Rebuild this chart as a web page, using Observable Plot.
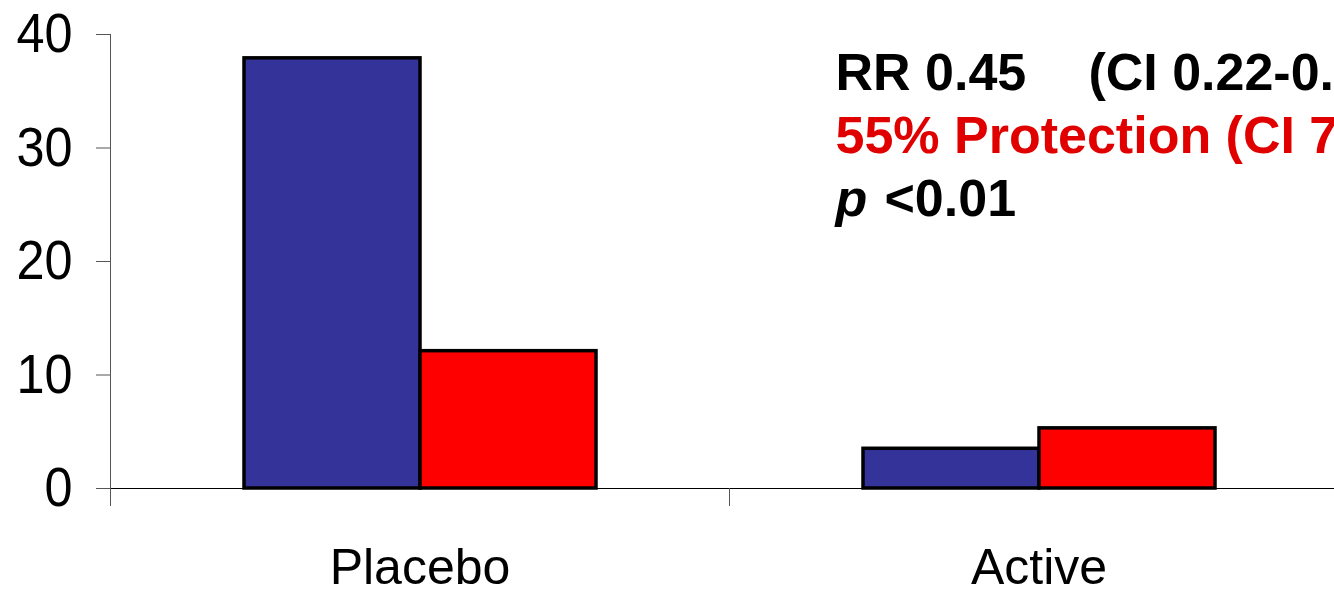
<!DOCTYPE html>
<html>
<head>
<meta charset="utf-8">
<script src="https://cdn.jsdelivr.net/npm/d3@7"></script>
<script src="https://cdn.jsdelivr.net/npm/@observablehq/plot@0.6"></script>
<style>
  html, body { margin: 0; padding: 0; background: #fff; overflow: hidden; }
  #chart svg { display: block; overflow: hidden; }
</style>
</head>
<body>
<div id="chart"></div>
<script>
const categories = ["Placebo", "Active"];
const series = ["Series 1", "Series 2"];
const series1Values = [37.9, 3.5];
const series2Values = [12.1, 5.3];
const yTicks = [0, 10, 20, 30, 40];
const seriesColors = ["#333399", "#ff0000"];
const annotationLine1 = "RR 0.45\u00a0\u00a0\u00a0\u00a0\u200a(CI 0.22-0.";
const annotationLine2 = "55% Protection (CI 7";
const annotationP = "p";
const annotationPValue = "<0.01";

const data = categories.flatMap((c, i) => [
  {category: c, series: series[0], value: series1Values[i]},
  {category: c, series: series[1], value: series2Values[i]}
]);

const font = "'Liberation Sans', Arial, Helvetica, sans-serif";
const common = {
  fx: () => "Active",
  frameAnchor: "top-left",
  textAnchor: "start",
  lineAnchor: "top",
  dy: 10,
  fontSize: 52,
  fontWeight: "bold",
  lineHeight: 1.22
};

const chart = Plot.plot({
  width: 1334,
  height: 595,
  marginTop: 34,
  marginBottom: 107,
  marginLeft: 110,
  marginRight: -14,
  style: {fontFamily: font, background: "#fff", color: "#000", overflow: "hidden"},
  fx: {domain: categories, padding: 0, label: null},
  x: {domain: series, paddingInner: 0, paddingOuter: 0.75, axis: null},
  y: {domain: [0, 40], label: null},
  color: {domain: series, range: seriesColors},
  marks: [
    Plot.barY(data, {fx: "category", x: "series", y: "value", fill: "series", stroke: "#000", strokeWidth: 3.5}),
    Plot.ruleY([0], {stroke: "#000", strokeWidth: 1.2}),
    Plot.frame({anchor: "left", facet: "super", insetBottom: -17, stroke: "#555"}),
    Plot.frame({anchor: "left", insetTop: 454, insetBottom: -17, stroke: "#555"}),
    Plot.axisY({ticks: yTicks, tickSize: 14, tickPadding: 24, fontSize: 56, stroke: "#555", fill: "#000", label: null}),
    Plot.axisFx({anchor: "bottom", tickSize: 0, tickPadding: 60, fontSize: 50, label: null}),
    Plot.text([annotationLine1], {...common, text: d => d, dx: 106, fill: "#000"}),
    Plot.text([annotationLine2], {...common, text: d => "\n" + d, dx: 106, fill: "#e00000"}),
    Plot.text([annotationP], {...common, text: d => "\n\n" + d, dx: 106, fill: "#000", fontStyle: "italic"}),
    Plot.text([annotationPValue], {...common, text: d => "\n\n" + d, dx: 155, fill: "#000"})
  ]
});

// Condense the y tick labels horizontally (as in the reference), scaling about each label's anchor.
d3.select(chart).selectAll("g[aria-label='y-axis tick label'] text").each(function () {
  const x = +this.getAttribute("x") || 0;
  const y = +this.getAttribute("y") || 0;
  const t = this.getAttribute("transform") || "";
  this.setAttribute("transform", `${t} translate(${x},${y}) scale(0.9,1) translate(${-x},${-y})`);
});

document.getElementById("chart").appendChild(chart);
</script>
</body>
</html>
